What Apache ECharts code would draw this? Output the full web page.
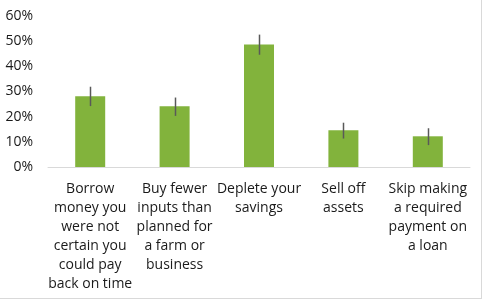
<!DOCTYPE html>
<html><head><meta charset="utf-8">
<script src="https://cdn.jsdelivr.net/npm/echarts@6/dist/echarts.min.js"></script>
<style>
html,body{margin:0;padding:0;background:#fff;}
#c{width:481px;height:298px;border-right:1px solid #d9d9d9;border-bottom:1px solid #d9d9d9;}
</style></head>
<body><div id="c"></div>
<script>
var categories = [
  "Borrow\nmoney you\nwere not\ncertain you\ncould pay\nback on time",
  "Buy fewer\ninputs than\nplanned for\na farm or\nbusiness",
  "Deplete your\nsavings",
  "Sell off\nassets",
  "Skip making\na required\npayment on\na loan"
];
var values = [0.281, 0.241, 0.487, 0.146, 0.122];
var errLow = [0.242, 0.203, 0.446, 0.113, 0.087];
var errHigh = [0.319, 0.276, 0.526, 0.176, 0.154];

var chart = echarts.init(document.getElementById('c'));
var errData = categories.map(function(c, i){ return [i, errLow[i], errHigh[i]]; });
chart.setOption({
  animation: false,
  grid: {left: 48, right: 11, top: 16, bottom: 131, containLabel: false},
  xAxis: {
    type: 'category', data: categories,
    axisLine: {lineStyle: {color: '#d9d9d9', width: 1}},
    axisTick: {show: false},
    axisLabel: {interval: 0, margin: 13, fontFamily: 'Open Sans', fontSize: 14, lineHeight: 19, color: '#1a1a1a', align: 'center'}
  },
  yAxis: {
    type: 'value', min: 0, max: 0.6, interval: 0.1,
    axisLine: {show: false}, axisTick: {show: false}, splitLine: {show: false},
    axisLabel: {margin: 15, fontFamily: 'Open Sans', fontSize: 14, color: '#1a1a1a',
      formatter: function(v){ return Math.round(v*100) + '%'; }}
  },
  series: [
    {type: 'bar', data: values, barWidth: 30, itemStyle: {color: '#82b33c'}},
    {type: 'custom', data: errData, z: 10,
      renderItem: function(params, api){
        var lo = api.coord([api.value(0), api.value(1)]);
        var hi = api.coord([api.value(0), api.value(2)]);
        var x = Math.round(lo[0]) + 0.5;
        return {type: 'line', shape: {x1: x, y1: lo[1], x2: x, y2: hi[1]},
          style: {stroke: '#595959', lineWidth: 1.5}};
      }}
  ]
});
</script></body></html>
